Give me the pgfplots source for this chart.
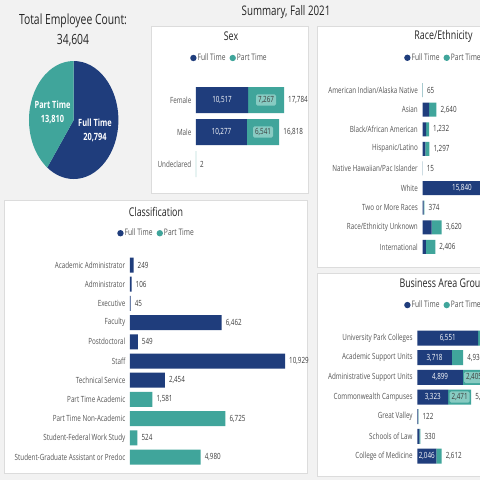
\documentclass[border=0pt]{standalone}
\usepackage{pgfplots}
\pgfplotsset{compat=1.18}
\usepackage{fontspec}
\setmainfont{Open Sans}[FakeStretch=0.74]
\definecolor{navy}{RGB}{31,61,124}
\definecolor{ptteal}{RGB}{64,165,155}
\definecolor{boxteal}{RGB}{135,203,194}
\definecolor{bgc}{RGB}{242,242,242}
\definecolor{border}{RGB}{220,220,220}
\definecolor{lblgray}{RGB}{85,85,85}
\definecolor{valgray}{RGB}{60,60,60}
\definecolor{ttl}{RGB}{37,37,37}
\newcommand\lbl{\fontsize{8.5}{10}\selectfont}
\newcommand\val{\fontsize{8.5}{10}\selectfont}
\newcommand\lgd{\fontsize{9}{10}\selectfont}
\newcommand\pttl{\fontsize{12}{14}\selectfont}
\tikzset{
  inlbl/.style={font=\val, text=white},
  boxlbl/.style={font=\val, text=valgray, fill=boxteal, rounded corners=1.5pt, inner sep=2pt},
  outlbl/.style={font=\val, text=valgray, anchor=west, inner sep=0pt, xshift=4pt},
}
\pgfplotsset{
  dash/.style={clip=false, xtick=\empty, axis line style={draw=none},
    major tick length=0pt, tick style={draw=none},
    yticklabel style={font=\lbl, text=lblgray, inner sep=0pt, xshift=-4.5pt},
    legend style={draw=none, fill=none, font=\lgd, text=lblgray, legend columns=2, anchor=center,
      nodes={inner sep=1pt}, /tikz/every even column/.append style={column sep=3pt}},
    /pgf/number format/assume math mode=true},
  overlay/.style={hide axis, clip=false},
  sexgeo/.style={scale only axis, at={(196pt,-84pt)}, anchor=north west, width=99pt, height=96pt,
    xmin=0, xmax=20000, ymin=-0.5, ymax=2.5},
  racegeo/.style={scale only axis, at={(422.5pt,-80.2pt)}, anchor=north west, width=106pt, height=176.6pt,
    xmin=0, xmax=20000, ymin=-0.5, ymax=8.5},
  busgeo/.style={scale only axis, at={(417.3pt,-328.2pt)}, anchor=north west, width=111.6pt, height=137.7pt,
    xmin=0, xmax=12000, ymin=-0.5, ymax=6.5},
  ftleg/.style={legend image code/.code={\fill[navy] (0pt,0pt) circle (3.2pt);}},
  ptleg/.style={legend image code/.code={\fill[ptteal] (0pt,0pt) circle (3.2pt);}},
}
\begin{document}
\begin{tikzpicture}
\path[use as bounding box] (0pt,0pt) rectangle (480pt,-480pt);
\clip (0pt,0pt) rectangle (480pt,-480pt);
\fill[bgc] (0pt,0pt) rectangle (480pt,-480pt);
% panels
\draw[border, fill=white] (151pt,-26pt) rectangle (308pt,-193pt);
\draw[border, fill=white] (317pt,-26pt) rectangle (570pt,-267pt);
\draw[border, fill=white] (4pt,-200pt) rectangle (307pt,-473pt);
\draw[border, fill=white] (317pt,-273pt) rectangle (570pt,-476pt);
% titles
\node[font=\fontsize{14}{16}\selectfont, text=ttl] at (73pt,-21.3pt) {Total Employee Count:};
\node[font=\fontsize{14}{16}\selectfont, text=ttl] at (73pt,-40pt) {34,604};
\node[font=\fontsize{13.2}{15}\selectfont, text=ttl] at (286pt,-12pt) {Summary, Fall 2021};
\node[font=\pttl, text=ttl] at (231pt,-36.7pt) {Sex};
\node[font=\pttl, text=ttl] at (443.5pt,-36pt) {Race/Ethnicity};
\node[font=\pttl, text=ttl] at (156pt,-211.7pt) {Classification};
\node[font=\pttl, text=ttl, anchor=west, inner sep=0pt] at (399.3pt,-284.3pt) {Business Area Group};

% pie
\pgfmathsetmacro\ang{90-360*20.794/(20.794+13.810)}
\begin{axis}[at={(73.7pt,-120pt)}, anchor=center, scale only axis, width=89.4pt, height=118pt,
  hide axis, xmin=-1, xmax=1, ymin=-1, ymax=1, clip=false]
\fill[navy] (axis cs:0,0) -- (axis cs:0,1) arc[start angle=90, end angle=\ang, x radius=44.7pt, y radius=59pt] -- cycle;
\fill[ptteal] (axis cs:0,0) -- (axis cs:0,1) arc[start angle=90, end angle=\ang+360, x radius=44.7pt, y radius=59pt] -- cycle;
\node[font=\fontsize{10}{14}\selectfont\bfseries, text=white, align=center] at (axis cs:-0.474,0.136) {Part Time\\13,810};
\node[font=\fontsize{10}{14}\selectfont\bfseries, text=white, align=center] at (axis cs:0.477,-0.178) {Full Time\\20,794};
\end{axis}

% Sex
\begin{axis}[dash, sexgeo, xbar stacked, bar width=26pt, ytick={0,1,2}, yticklabels={Undeclared,Male,Female},
  legend style={at={(0.333,1.271)}}]
\addplot[ftleg, fill=navy, draw=none] coordinates {(0,0) (10277,1) (10517,2)};
\addplot[ptleg, fill=ptteal, draw=none] coordinates {(2,0) (6541,1) (7267,2)};
\legend{Full Time, Part Time}
\end{axis}
\begin{axis}[overlay, sexgeo]
\node[inlbl] at (axis cs:5258.5,2) {10,517};
\node[inlbl] at (axis cs:5138.5,1) {10,277};
\node[boxlbl] at (axis cs:14150.5,2) {7,267};
\node[boxlbl] at (axis cs:13547.5,1) {6,541};
\node[outlbl] at (axis cs:17784,2) {17,784};
\node[outlbl] at (axis cs:16818,1) {16,818};
\node[outlbl] at (axis cs:2,0) {2};
\end{axis}

% Race/Ethnicity
\begin{axis}[dash, racegeo, xbar stacked, bar width=14pt, ytick={0,...,8},
  yticklabels={International, Race/Ethnicity Unknown, Two or More Races, White, Native Hawaiian/Pac Islander, Hispanic/Latino, Black/African American, Asian, American Indian/Alaska Native},
  legend style={at={(0.193,1.127)}}]
\addplot[ftleg, fill=navy, draw=none] coordinates {(660,0) (1740,1) (200,2) (12000,3) (10,4) (520,5) (700,6) (1230,7) (40,8)};
\addplot[ptleg, fill=ptteal, draw=none] coordinates {(1746,0) (1880,1) (174,2) (3840,3) (5,4) (777,5) (532,6) (1410,7) (25,8)};
\legend{Full Time, Part Time}
\end{axis}
\begin{axis}[overlay, racegeo]
\node[outlbl] at (axis cs:2406,0) {2,406};
\node[outlbl] at (axis cs:3620,1) {3,620};
\node[outlbl] at (axis cs:374,2) {374};
\node[inlbl] at (axis cs:7450,3) {15,840};
\node[outlbl] at (axis cs:15,4) {15};
\node[outlbl] at (axis cs:1297,5) {1,297};
\node[outlbl] at (axis cs:1232,6) {1,232};
\node[outlbl] at (axis cs:2640,7) {2,640};
\node[outlbl] at (axis cs:65,8) {65};
\end{axis}

% Classification
\begin{axis}[dash, scale only axis, at={(130pt,-255.4pt)}, anchor=north west, width=170.2pt, height=211.2pt,
  xmin=0, xmax=12000, ymin=-0.5, ymax=10.5,
  xbar, bar width=15pt, bar shift=0pt, ytick={0,...,10},
  yticklabels={Student-Graduate Assistant or Predoc, Student-Federal Work Study, Part Time Non-Academic, Part Time Academic, Technical Service, Staff, Postdoctoral, Faculty, Executive, Administrator, Academic Administrator},
  nodes near coords, point meta=x, nodes near coords style={outlbl},
  legend style={at={(0.153,1.105)}},
  /pgf/number format/fixed, /pgf/number format/precision=0, /pgf/number format/1000 sep={,}]
\addplot[ftleg, fill=navy, draw=none] coordinates {(249,10) (106,9) (45,8) (6462,7) (549,6) (10929,5) (2454,4)};
\addplot[ptleg, fill=ptteal, draw=none] coordinates {(1581,3) (6725,2) (524,1) (4980,0)};
\legend{Full Time, Part Time}
\end{axis}

% Business Area Group
\begin{axis}[dash, busgeo, xbar stacked, bar width=15pt, ytick={0,...,6},
  yticklabels={College of Medicine, Schools of Law, Great Valley, Commonwealth Campuses, Administrative Support Units, Academic Support Units, University Park Colleges},
  legend style={at={(0.23,1.168)}}]
\addplot[ftleg, fill=navy, draw=none] coordinates {(2046,0) (230,1) (90,2) (3323,3) (4899,4) (3718,5) (6551,6)};
\addplot[ptleg, fill=ptteal, draw=none] coordinates {(566,0) (100,1) (32,2) (2471,3) (2405,4) (1218,5) (3000,6)};
\legend{Full Time, Part Time}
\end{axis}
\begin{axis}[overlay, busgeo]
\node[inlbl] at (axis cs:3275.5,6) {6,551};
\node[inlbl] at (axis cs:1859,5) {3,718};
\node[inlbl] at (axis cs:2449.5,4) {4,899};
\node[inlbl] at (axis cs:1661.5,3) {3,323};
\node[inlbl] at (axis cs:1023,0) {2,046};
\node[boxlbl] at (axis cs:6101.5,4) {2,405};
\node[boxlbl] at (axis cs:4558.5,3) {2,471};
\node[outlbl] at (axis cs:4936,5) {4,936};
\node[outlbl] at (axis cs:7304,4) {7,304};
\node[outlbl] at (axis cs:5794,3) {5,794};
\node[outlbl] at (axis cs:122,2) {122};
\node[outlbl] at (axis cs:330,1) {330};
\node[outlbl] at (axis cs:2612,0) {2,612};
\end{axis}
\end{tikzpicture}
\end{document}
